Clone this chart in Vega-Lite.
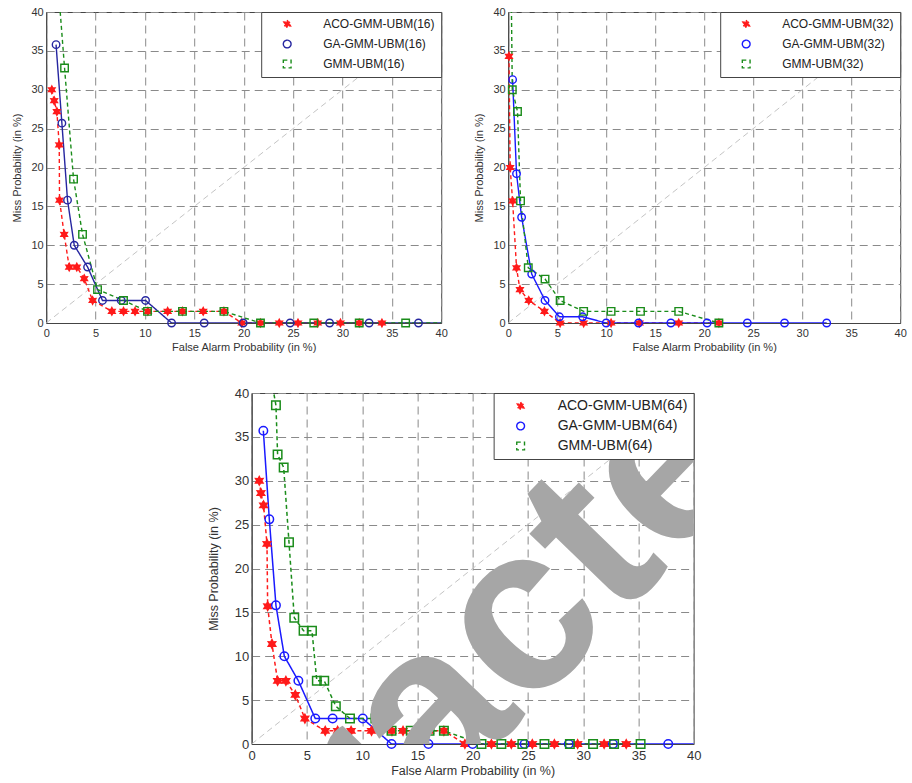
{
  "$schema": "https://vega.github.io/schema/vega-lite/v6.json",
  "padding": {"left": 11, "top": 5, "right": 5, "bottom": 5},
  "config": {
    "font": "Liberation Sans",
    "view": {"stroke": "#444", "strokeWidth": 1},
    "axis": {"grid": true, "gridColor": "#8a8a8a", "gridDash": [8, 5], "gridWidth": 1, "domainColor": "#444", "ticks": false, "labelColor": "#333", "titleColor": "#333", "titleFontWeight": "normal", "labelFlush": false, "labelOverlap": false},
    "legend": {"orient": "top-right", "offset": 0, "fillColor": "white", "strokeColor": "#444", "padding": 6, "symbolSize": 60, "symbolOffset": 14, "rowPadding": 6, "symbolStrokeWidth": 1.4, "labelColor": "#222", "labelLimit": 300, "labelOffset": 30}
  },
  "datasets": {
    "p16": [
      {"series": "ACO-GMM-UBM(16)", "x": 0.57, "y": 30.0}, {"series": "ACO-GMM-UBM(16)", "x": 0.81, "y": 28.6}, {"series": "ACO-GMM-UBM(16)", "x": 1.08, "y": 27.2}, {"series": "ACO-GMM-UBM(16)", "x": 1.32, "y": 22.9}, {"series": "ACO-GMM-UBM(16)", "x": 1.35, "y": 15.8}, {"series": "ACO-GMM-UBM(16)", "x": 1.82, "y": 11.4}, {"series": "ACO-GMM-UBM(16)", "x": 2.33, "y": 7.2}, {"series": "ACO-GMM-UBM(16)", "x": 3.1, "y": 7.2}, {"series": "ACO-GMM-UBM(16)", "x": 3.85, "y": 5.7}, {"series": "ACO-GMM-UBM(16)", "x": 4.7, "y": 2.9}, {"series": "ACO-GMM-UBM(16)", "x": 6.65, "y": 1.5}, {"series": "ACO-GMM-UBM(16)", "x": 7.83, "y": 1.5}, {"series": "ACO-GMM-UBM(16)", "x": 9.0, "y": 1.5}, {"series": "ACO-GMM-UBM(16)", "x": 10.3, "y": 1.5}, {"series": "ACO-GMM-UBM(16)", "x": 12.3, "y": 1.5}, {"series": "ACO-GMM-UBM(16)", "x": 13.8, "y": 1.5}, {"series": "ACO-GMM-UBM(16)", "x": 15.9, "y": 1.5}, {"series": "ACO-GMM-UBM(16)", "x": 18.0, "y": 1.5}, {"series": "ACO-GMM-UBM(16)", "x": 19.8, "y": 0}, {"series": "ACO-GMM-UBM(16)", "x": 21.7, "y": 0}, {"series": "ACO-GMM-UBM(16)", "x": 23.6, "y": 0}, {"series": "ACO-GMM-UBM(16)", "x": 25.5, "y": 0}, {"series": "ACO-GMM-UBM(16)", "x": 27.5, "y": 0}, {"series": "ACO-GMM-UBM(16)", "x": 29.8, "y": 0}, {"series": "ACO-GMM-UBM(16)", "x": 31.7, "y": 0}, {"series": "ACO-GMM-UBM(16)", "x": 34.0, "y": 0},
      {"series": "GA-GMM-UBM(16)", "x": 1.0, "y": 35.8}, {"series": "GA-GMM-UBM(16)", "x": 1.59, "y": 25.7}, {"series": "GA-GMM-UBM(16)", "x": 2.16, "y": 15.8}, {"series": "GA-GMM-UBM(16)", "x": 2.84, "y": 10.0}, {"series": "GA-GMM-UBM(16)", "x": 4.19, "y": 7.2}, {"series": "GA-GMM-UBM(16)", "x": 5.7, "y": 2.9}, {"series": "GA-GMM-UBM(16)", "x": 7.6, "y": 2.9}, {"series": "GA-GMM-UBM(16)", "x": 10.06, "y": 2.9}, {"series": "GA-GMM-UBM(16)", "x": 12.7, "y": 0}, {"series": "GA-GMM-UBM(16)", "x": 16.0, "y": 0}, {"series": "GA-GMM-UBM(16)", "x": 19.95, "y": 0}, {"series": "GA-GMM-UBM(16)", "x": 24.7, "y": 0}, {"series": "GA-GMM-UBM(16)", "x": 28.7, "y": 0}, {"series": "GA-GMM-UBM(16)", "x": 32.7, "y": 0}, {"series": "GA-GMM-UBM(16)", "x": 37.7, "y": 0}, {"series": "GA-GMM-UBM(16)", "x": 41.7, "y": 0},
      {"series": "GMM-UBM(16)", "x": 1.2, "y": 43.6}, {"series": "GMM-UBM(16)", "x": 1.86, "y": 32.8}, {"series": "GMM-UBM(16)", "x": 2.77, "y": 18.5}, {"series": "GMM-UBM(16)", "x": 3.68, "y": 11.4}, {"series": "GMM-UBM(16)", "x": 5.2, "y": 4.3}, {"series": "GMM-UBM(16)", "x": 7.83, "y": 2.9}, {"series": "GMM-UBM(16)", "x": 10.26, "y": 1.5}, {"series": "GMM-UBM(16)", "x": 13.8, "y": 1.5}, {"series": "GMM-UBM(16)", "x": 18.0, "y": 1.5}, {"series": "GMM-UBM(16)", "x": 21.7, "y": 0}, {"series": "GMM-UBM(16)", "x": 27.1, "y": 0}, {"series": "GMM-UBM(16)", "x": 31.7, "y": 0}, {"series": "GMM-UBM(16)", "x": 36.4, "y": 0}, {"series": "GMM-UBM(16)", "x": 41.0, "y": 0}
    ],
    "p32": [
      {"series": "ACO-GMM-UBM(32)", "x": 0.08, "y": 34.3}, {"series": "ACO-GMM-UBM(32)", "x": 0.2, "y": 20.0}, {"series": "ACO-GMM-UBM(32)", "x": 0.45, "y": 15.7}, {"series": "ACO-GMM-UBM(32)", "x": 0.85, "y": 7.1}, {"series": "ACO-GMM-UBM(32)", "x": 1.2, "y": 4.3}, {"series": "ACO-GMM-UBM(32)", "x": 2.1, "y": 2.9}, {"series": "ACO-GMM-UBM(32)", "x": 3.7, "y": 1.5}, {"series": "ACO-GMM-UBM(32)", "x": 5.3, "y": 0}, {"series": "ACO-GMM-UBM(32)", "x": 7.7, "y": 0}, {"series": "ACO-GMM-UBM(32)", "x": 10.5, "y": 0}, {"series": "ACO-GMM-UBM(32)", "x": 13.4, "y": 0}, {"series": "ACO-GMM-UBM(32)", "x": 17.4, "y": 0}, {"series": "ACO-GMM-UBM(32)", "x": 21.5, "y": 0},
      {"series": "GA-GMM-UBM(32)", "x": 0.45, "y": 31.3}, {"series": "GA-GMM-UBM(32)", "x": 0.85, "y": 19.2}, {"series": "GA-GMM-UBM(32)", "x": 1.37, "y": 13.6}, {"series": "GA-GMM-UBM(32)", "x": 2.4, "y": 6.3}, {"series": "GA-GMM-UBM(32)", "x": 3.76, "y": 2.9}, {"series": "GA-GMM-UBM(32)", "x": 5.23, "y": 0.8}, {"series": "GA-GMM-UBM(32)", "x": 7.6, "y": 0.8}, {"series": "GA-GMM-UBM(32)", "x": 10.0, "y": 0}, {"series": "GA-GMM-UBM(32)", "x": 13.3, "y": 0}, {"series": "GA-GMM-UBM(32)", "x": 16.6, "y": 0}, {"series": "GA-GMM-UBM(32)", "x": 20.3, "y": 0}, {"series": "GA-GMM-UBM(32)", "x": 24.4, "y": 0}, {"series": "GA-GMM-UBM(32)", "x": 28.2, "y": 0}, {"series": "GA-GMM-UBM(32)", "x": 32.5, "y": 0},
      {"series": "GMM-UBM(32)", "x": 0.3, "y": 44.0}, {"series": "GMM-UBM(32)", "x": 0.42, "y": 30.0}, {"series": "GMM-UBM(32)", "x": 0.95, "y": 27.2}, {"series": "GMM-UBM(32)", "x": 1.26, "y": 15.7}, {"series": "GMM-UBM(32)", "x": 2.05, "y": 7.1}, {"series": "GMM-UBM(32)", "x": 3.76, "y": 5.65}, {"series": "GMM-UBM(32)", "x": 5.3, "y": 2.9}, {"series": "GMM-UBM(32)", "x": 7.7, "y": 1.5}, {"series": "GMM-UBM(32)", "x": 10.5, "y": 1.5}, {"series": "GMM-UBM(32)", "x": 13.5, "y": 1.5}, {"series": "GMM-UBM(32)", "x": 17.4, "y": 1.5}, {"series": "GMM-UBM(32)", "x": 21.5, "y": 0}
    ],
    "p64": [
      {"series": "ACO-GMM-UBM(64)", "x": 0.69, "y": 30.0}, {"series": "ACO-GMM-UBM(64)", "x": 0.84, "y": 28.6}, {"series": "ACO-GMM-UBM(64)", "x": 1.08, "y": 27.2}, {"series": "ACO-GMM-UBM(64)", "x": 1.39, "y": 22.8}, {"series": "ACO-GMM-UBM(64)", "x": 1.45, "y": 15.7}, {"series": "ACO-GMM-UBM(64)", "x": 1.84, "y": 11.4}, {"series": "ACO-GMM-UBM(64)", "x": 2.35, "y": 7.2}, {"series": "ACO-GMM-UBM(64)", "x": 3.1, "y": 7.2}, {"series": "ACO-GMM-UBM(64)", "x": 3.95, "y": 5.6}, {"series": "ACO-GMM-UBM(64)", "x": 4.82, "y": 2.9}, {"series": "ACO-GMM-UBM(64)", "x": 6.66, "y": 1.5}, {"series": "ACO-GMM-UBM(64)", "x": 7.78, "y": 1.5}, {"series": "ACO-GMM-UBM(64)", "x": 9.0, "y": 1.5}, {"series": "ACO-GMM-UBM(64)", "x": 10.85, "y": 1.5}, {"series": "ACO-GMM-UBM(64)", "x": 12.7, "y": 1.5}, {"series": "ACO-GMM-UBM(64)", "x": 13.7, "y": 1.5}, {"series": "ACO-GMM-UBM(64)", "x": 16.1, "y": 1.5}, {"series": "ACO-GMM-UBM(64)", "x": 17.4, "y": 1.5}, {"series": "ACO-GMM-UBM(64)", "x": 19.3, "y": 0}, {"series": "ACO-GMM-UBM(64)", "x": 21.7, "y": 0}, {"series": "ACO-GMM-UBM(64)", "x": 23.5, "y": 0}, {"series": "ACO-GMM-UBM(64)", "x": 25.4, "y": 0}, {"series": "ACO-GMM-UBM(64)", "x": 27.4, "y": 0}, {"series": "ACO-GMM-UBM(64)", "x": 29.5, "y": 0}, {"series": "ACO-GMM-UBM(64)", "x": 31.9, "y": 0}, {"series": "ACO-GMM-UBM(64)", "x": 33.9, "y": 0},
      {"series": "GA-GMM-UBM(64)", "x": 1.06, "y": 35.7}, {"series": "GA-GMM-UBM(64)", "x": 1.6, "y": 25.6}, {"series": "GA-GMM-UBM(64)", "x": 2.2, "y": 15.8}, {"series": "GA-GMM-UBM(64)", "x": 2.96, "y": 10.0}, {"series": "GA-GMM-UBM(64)", "x": 4.23, "y": 7.2}, {"series": "GA-GMM-UBM(64)", "x": 5.76, "y": 2.9}, {"series": "GA-GMM-UBM(64)", "x": 7.33, "y": 2.9}, {"series": "GA-GMM-UBM(64)", "x": 10.06, "y": 2.9}, {"series": "GA-GMM-UBM(64)", "x": 12.66, "y": 0}, {"series": "GA-GMM-UBM(64)", "x": 16.0, "y": 0}, {"series": "GA-GMM-UBM(64)", "x": 20.0, "y": 0}, {"series": "GA-GMM-UBM(64)", "x": 24.7, "y": 0}, {"series": "GA-GMM-UBM(64)", "x": 28.7, "y": 0}, {"series": "GA-GMM-UBM(64)", "x": 32.7, "y": 0}, {"series": "GA-GMM-UBM(64)", "x": 37.7, "y": 0}, {"series": "GA-GMM-UBM(64)", "x": 41.7, "y": 0},
      {"series": "GMM-UBM(64)", "x": 1.8, "y": 41.4}, {"series": "GMM-UBM(64)", "x": 2.2, "y": 38.6}, {"series": "GMM-UBM(64)", "x": 2.35, "y": 33.0}, {"series": "GMM-UBM(64)", "x": 2.9, "y": 31.5}, {"series": "GMM-UBM(64)", "x": 3.38, "y": 23.0}, {"series": "GMM-UBM(64)", "x": 3.86, "y": 14.4}, {"series": "GMM-UBM(64)", "x": 4.7, "y": 12.9}, {"series": "GMM-UBM(64)", "x": 5.46, "y": 12.9}, {"series": "GMM-UBM(64)", "x": 5.9, "y": 7.2}, {"series": "GMM-UBM(64)", "x": 6.57, "y": 7.2}, {"series": "GMM-UBM(64)", "x": 7.62, "y": 4.3}, {"series": "GMM-UBM(64)", "x": 8.9, "y": 2.9}, {"series": "GMM-UBM(64)", "x": 11.2, "y": 2.9}, {"series": "GMM-UBM(64)", "x": 12.66, "y": 1.5}, {"series": "GMM-UBM(64)", "x": 14.4, "y": 1.5}, {"series": "GMM-UBM(64)", "x": 16.1, "y": 1.5}, {"series": "GMM-UBM(64)", "x": 17.4, "y": 1.5}, {"series": "GMM-UBM(64)", "x": 20.8, "y": 0}, {"series": "GMM-UBM(64)", "x": 22.6, "y": 0}, {"series": "GMM-UBM(64)", "x": 24.5, "y": 0}, {"series": "GMM-UBM(64)", "x": 26.5, "y": 0}, {"series": "GMM-UBM(64)", "x": 28.8, "y": 0}, {"series": "GMM-UBM(64)", "x": 30.9, "y": 0}, {"series": "GMM-UBM(64)", "x": 32.8, "y": 0}, {"series": "GMM-UBM(64)", "x": 35.2, "y": 0}
    ],
    "diag": [{"x": 0, "y": 0}, {"x": 40, "y": 40}]
  },
  "center": true,
  "spacing": 33,
  "resolve": {"scale": {"color": "independent", "shape": "independent", "strokeDash": "independent", "fill": "independent", "x": "independent", "y": "independent"}, "legend": {"color": "independent"}},
  "vconcat": [
    {
      "bounds": "flush",
      "spacing": 67,
      "resolve": {"scale": {"color": "independent", "shape": "independent", "strokeDash": "independent", "fill": "independent", "x": "independent", "y": "independent"}, "legend": {"color": "independent"}},
      "hconcat": [
        {
          "width": 395, "height": 311,
          "encoding": {
            "x": {"field": "x", "type": "quantitative", "scale": {"domain": [0, 40], "nice": false, "zero": false}, "axis": {"values": [0, 5, 10, 15, 20, 25, 30, 35, 40], "title": "False Alarm Probability (in %)", "labelFontSize": 11, "titleFontSize": 11, "labelPadding": 4, "titlePadding": 3}},
            "y": {"field": "y", "type": "quantitative", "scale": {"domain": [0, 40], "nice": false, "zero": false}, "axis": {"values": [0, 5, 10, 15, 20, 25, 30, 35, 40], "title": "Miss Probability (in %)", "labelFontSize": 11, "titleFontSize": 11, "labelPadding": 3, "titlePadding": 8}}
          },
          "layer": [
            {"data": {"name": "diag"}, "mark": {"type": "line", "color": "#c4c4c4", "strokeDash": [6, 4], "strokeWidth": 1}},
            {"data": {"name": "p16"}, "mark": {"type": "line", "clip": true, "strokeWidth": 1.4},
             "encoding": {
               "color": {"field": "series", "type": "nominal", "scale": {"domain": ["ACO-GMM-UBM(16)", "GA-GMM-UBM(16)", "GMM-UBM(16)"], "range": ["#ff1a1a", "#2626a0", "#1a8c1a"]}, "legend": {"title": null, "labelFontSize": 12}},
               "strokeDash": {"field": "series", "type": "nominal", "scale": {"domain": ["ACO-GMM-UBM(16)", "GA-GMM-UBM(16)", "GMM-UBM(16)"], "range": [[4, 3], [1, 0], [4, 3]]}, "legend": null}
             }},
            {"data": {"name": "p16"}, "transform": [{"filter": "datum.x <= 40 && datum.y <= 40"}],
             "mark": {"type": "point", "filled": false, "opacity": 1, "strokeWidth": 1.4, "size": 56},
             "encoding": {
               "color": {"field": "series", "type": "nominal"},
               "shape": {"field": "series", "type": "nominal", "scale": {"domain": ["ACO-GMM-UBM(16)", "GA-GMM-UBM(16)", "GMM-UBM(16)"], "range": ["M0,-1L0.275,-0.476L0.866,-0.5L0.55,0L0.866,0.5L0.275,0.476L0,1L-0.275,0.476L-0.866,0.5L-0.55,0L-0.866,-0.5L-0.275,-0.476Z", "circle", "square"]}, "legend": null},
               "fill": {"field": "series", "type": "nominal", "scale": {"domain": ["ACO-GMM-UBM(16)", "GA-GMM-UBM(16)", "GMM-UBM(16)"], "range": ["#ff1a1a", "transparent", "transparent"]}, "legend": null}
             }}
          ]
        },
        {
          "width": 392, "height": 311,
          "encoding": {
            "x": {"field": "x", "type": "quantitative", "scale": {"domain": [0, 40], "nice": false, "zero": false}, "axis": {"values": [0, 5, 10, 15, 20, 25, 30, 35, 40], "title": "False Alarm Probability (in %)", "labelFontSize": 11, "titleFontSize": 11, "labelPadding": 4, "titlePadding": 3}},
            "y": {"field": "y", "type": "quantitative", "scale": {"domain": [0, 40], "nice": false, "zero": false}, "axis": {"values": [0, 5, 10, 15, 20, 25, 30, 35, 40], "title": "Miss Probability (in %)", "labelFontSize": 11, "titleFontSize": 11, "labelPadding": 3, "titlePadding": 8}}
          },
          "layer": [
            {"data": {"name": "diag"}, "mark": {"type": "line", "color": "#c4c4c4", "strokeDash": [6, 4], "strokeWidth": 1}},
            {"data": {"name": "p32"}, "mark": {"type": "line", "clip": true, "strokeWidth": 1.4},
             "encoding": {
               "color": {"field": "series", "type": "nominal", "scale": {"domain": ["ACO-GMM-UBM(32)", "GA-GMM-UBM(32)", "GMM-UBM(32)"], "range": ["#ff1a1a", "#1a1aff", "#1a8c1a"]}, "legend": {"title": null, "labelFontSize": 12}},
               "strokeDash": {"field": "series", "type": "nominal", "scale": {"domain": ["ACO-GMM-UBM(32)", "GA-GMM-UBM(32)", "GMM-UBM(32)"], "range": [[4, 3], [1, 0], [4, 3]]}, "legend": null}
             }},
            {"data": {"name": "p32"}, "transform": [{"filter": "datum.x <= 40 && datum.y <= 40"}],
             "mark": {"type": "point", "filled": false, "opacity": 1, "strokeWidth": 1.4, "size": 56},
             "encoding": {
               "color": {"field": "series", "type": "nominal"},
               "shape": {"field": "series", "type": "nominal", "scale": {"domain": ["ACO-GMM-UBM(32)", "GA-GMM-UBM(32)", "GMM-UBM(32)"], "range": ["M0,-1L0.275,-0.476L0.866,-0.5L0.55,0L0.866,0.5L0.275,0.476L0,1L-0.275,0.476L-0.866,0.5L-0.55,0L-0.866,-0.5L-0.275,-0.476Z", "circle", "square"]}, "legend": null},
               "fill": {"field": "series", "type": "nominal", "scale": {"domain": ["ACO-GMM-UBM(32)", "GA-GMM-UBM(32)", "GMM-UBM(32)"], "range": ["#ff1a1a", "transparent", "transparent"]}, "legend": null}
             }}
          ]
        }
      ]
    },
    {
      "width": 442, "height": 351,
      "encoding": {
        "x": {"field": "x", "type": "quantitative", "scale": {"domain": [0, 40], "nice": false, "zero": false}, "axis": {"values": [0, 5, 10, 15, 20, 25, 30, 35, 40], "title": "False Alarm Probability (in %)", "labelFontSize": 13, "titleFontSize": 12.5, "labelPadding": 5, "titlePadding": 2}},
        "y": {"field": "y", "type": "quantitative", "scale": {"domain": [0, 40], "nice": false, "zero": false}, "axis": {"values": [0, 5, 10, 15, 20, 25, 30, 35, 40], "title": "Miss Probability (in %)", "labelFontSize": 13, "titleFontSize": 12.5, "labelPadding": 3, "titlePadding": 14}}
      },
      "layer": [
        {"data": {"name": "diag"}, "mark": {"type": "line", "color": "#c4c4c4", "strokeDash": [6, 4], "strokeWidth": 1}},
        {"data": {"name": "p64"}, "mark": {"type": "line", "clip": true, "strokeWidth": 1.5},
         "encoding": {
           "color": {"field": "series", "type": "nominal", "scale": {"domain": ["ACO-GMM-UBM(64)", "GA-GMM-UBM(64)", "GMM-UBM(64)"], "range": ["#ff1a1a", "#1a1aff", "#1a8c1a"]}, "legend": {"title": null, "labelFontSize": 14}},
           "strokeDash": {"field": "series", "type": "nominal", "scale": {"domain": ["ACO-GMM-UBM(64)", "GA-GMM-UBM(64)", "GMM-UBM(64)"], "range": [[4, 3], [1, 0], [4, 3]]}, "legend": null}
         }},
        {"data": {"name": "p64"}, "transform": [{"filter": "datum.x <= 40 && datum.y <= 40"}],
         "mark": {"type": "point", "filled": false, "opacity": 1, "strokeWidth": 1.5, "size": 72},
         "encoding": {
           "color": {"field": "series", "type": "nominal"},
           "shape": {"field": "series", "type": "nominal", "scale": {"domain": ["ACO-GMM-UBM(64)", "GA-GMM-UBM(64)", "GMM-UBM(64)"], "range": ["M0,-1L0.275,-0.476L0.866,-0.5L0.55,0L0.866,0.5L0.275,0.476L0,1L-0.275,0.476L-0.866,0.5L-0.55,0L-0.866,-0.5L-0.275,-0.476Z", "circle", "square"]}, "legend": null},
           "fill": {"field": "series", "type": "nominal", "scale": {"domain": ["ACO-GMM-UBM(64)", "GA-GMM-UBM(64)", "GMM-UBM(64)"], "range": ["#ff1a1a", "transparent", "transparent"]}, "legend": null}
         }},
        {"data": {"name": "diag"}, "transform": [{"filter": "datum.x == 0"}],
         "mark": {"type": "text", "text": "Retracted", "font": "Liberation Sans", "fontSize": 235, "fontWeight": "bold", "angle": 314, "color": "#a6a6a6", "opacity": 1, "align": "center", "baseline": "middle", "clip": true},
         "encoding": {"x": {"datum": 16.5, "type": "quantitative"}, "y": {"datum": 4.0, "type": "quantitative"}}}
      ]
    }
  ]
}
